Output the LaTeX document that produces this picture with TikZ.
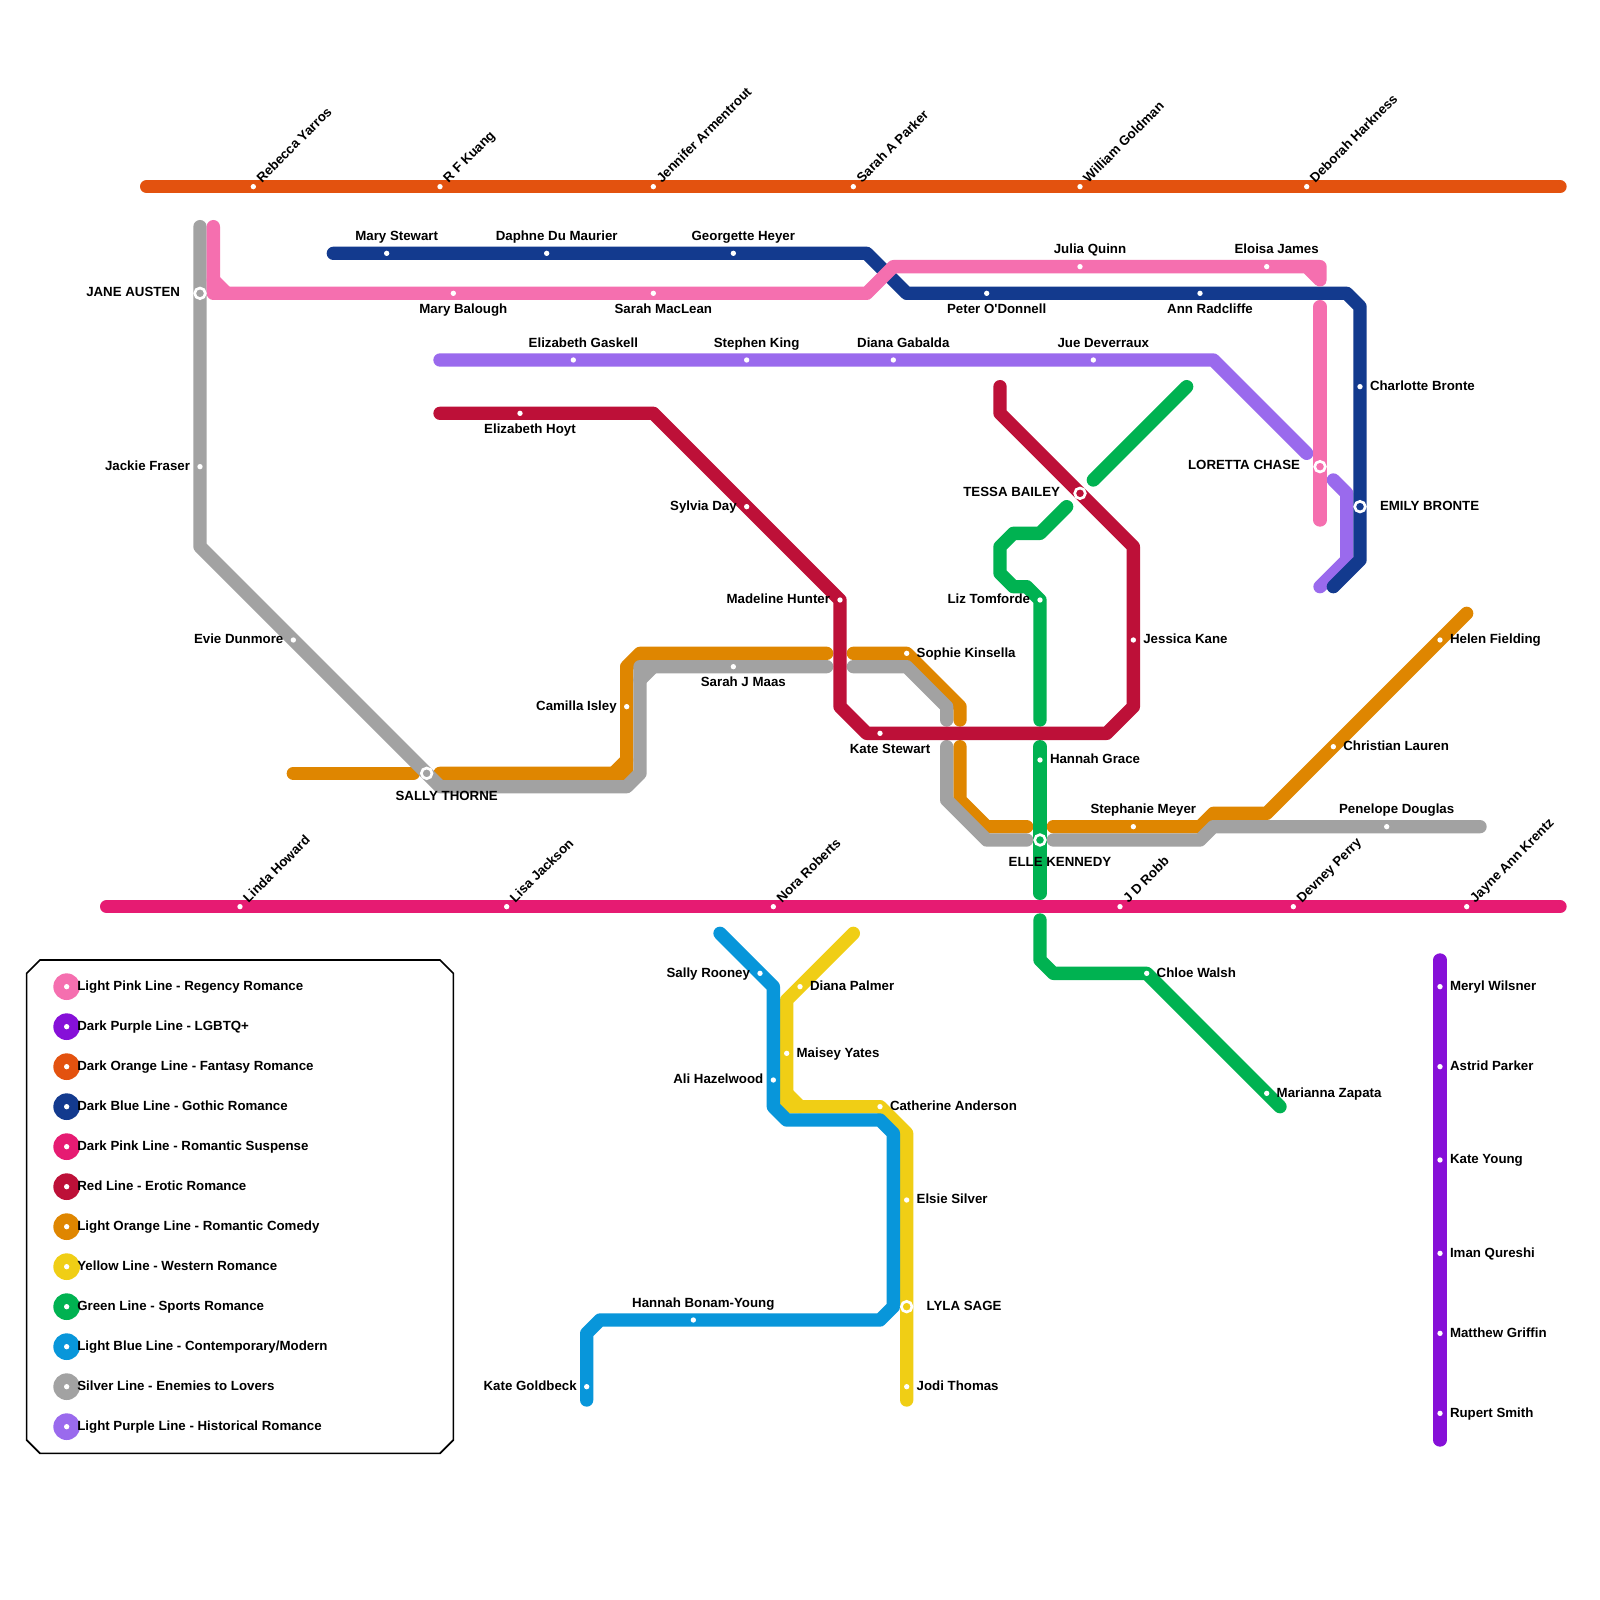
\documentclass[tikz,border=0pt]{standalone}
\usepackage{fontspec}
\setmainfont[Ligatures=TeXOff]{Liberation Sans}
\definecolor{lpink}{HTML}{F56FAF}
\definecolor{dpurple}{HTML}{8610D8}
\definecolor{dorange}{HTML}{E3520F}
\definecolor{dblue}{HTML}{133A8E}
\definecolor{dpink}{HTML}{E61B72}
\definecolor{redl}{HTML}{BD1038}
\definecolor{lorange}{HTML}{DF8600}
\definecolor{yellowl}{HTML}{F0CE15}
\definecolor{greenl}{HTML}{00B251}
\definecolor{lblue}{HTML}{0896DA}
\definecolor{silver}{HTML}{A2A2A2}
\definecolor{lpurple}{HTML}{9A6AED}
\tikzset{
  metro/.style={line width=0.2cm,line cap=round,line join=round},
  lab/.style={inner sep=0pt,outer sep=0pt,font=\bfseries\fontsize{5.67}{7}\selectfont,text=black},
  stationdot/.style={circle,fill=white,draw=none,minimum size=0.08cm,inner sep=0pt},
  hub/.style={circle,draw=white,line width=0.04cm,minimum size=0.16cm,inner sep=0pt},
  keydisc/.style={circle,minimum size=0.4cm,inner sep=0pt,draw=none},
}
\newcommand{\stdot}[3]{\node[stationdot] (#1) at (#2,#3) {};}
\newcommand{\LA}[4]{\stdot{#1}{#2}{#3}\node[lab,anchor=base] (#1-t) at ([xshift=0.15cm,yshift=0.193cm]#1) {#4};}
\newcommand{\LB}[4]{\stdot{#1}{#2}{#3}\node[lab,anchor=base] (#1-t) at ([xshift=0.15cm,yshift=-0.3cm]#1) {#4};}
\newcommand{\LR}[4]{\stdot{#1}{#2}{#3}\node[lab,anchor=base west] (#1-t) at ([xshift=0.15cm,yshift=-0.057cm]#1) {#4};}
\newcommand{\LL}[4]{\stdot{#1}{#2}{#3}\node[lab,anchor=base east] (#1-t) at ([xshift=-0.15cm,yshift=-0.057cm]#1) {#4};}
\newcommand{\LD}[4]{\stdot{#1}{#2}{#3}\node[lab,anchor=base west,rotate=45] (#1-t) at ([xshift=0.13cm,yshift=0.05cm]#1) {#4};}
\newcommand{\HUB}[4]{\node[hub,fill=#4] (#1) at (#2,#3) {};}
\newcommand{\KEY}[4]{\node[keydisc,fill=#3] (#1) at (5,#2) {};\node[stationdot] at (#1) {};\node[lab,anchor=base west] (#1-t) at (5.8,#2+0.25) {#4};}
\begin{document}
\begin{tikzpicture}[x=0.2cm,y=-0.2cm]
\useasboundingbox (0,0) rectangle (120,120);
\fill[white] (0,0) rectangle (120,120);
% legend frame
\draw[line width=0.7pt,black] (3,72)--(33,72)--(34,73)--(34,108)--(33,109)--(3,109)--(2,108)--(2,73)--cycle;
% light orange
\draw[metro,lorange] (22,58)--(31,58);
\draw[metro,lorange] (33,58)--(47,58)--(47,50)--(48,49)--(62,49);
\draw[metro,lorange] (46,58)--(47,57);
\draw[metro,lorange] (64,49)--(68,49)--(72,53)--(72,54);
\draw[metro,lorange] (72,56)--(72,60)--(74,62)--(77,62);
\draw[metro,lorange] (79,62)--(90,62)--(91,61)--(95,61)--(110,46);
% silver
\draw[metro,silver] (15,17)--(15,41)--(33,59)--(47,59)--(48,58)--(48,50)--(62,50);
\draw[metro,silver] (48,51)--(49,50);
\draw[metro,silver] (64,50)--(68,50)--(71,53)--(71,54);
\draw[metro,silver] (71,56)--(71,60)--(74,63)--(77,63);
\draw[metro,silver] (79,63)--(90,63)--(91,62)--(111,62);
% green
\draw[metro,greenl] (80,38)--(78,40)--(76,40)--(75,41)--(75,43)--(76,44)--(77,44)--(78,45)--(78,54);
\draw[metro,greenl] (82,36)--(89,29);
\draw[metro,greenl] (78,56)--(78,67);
\draw[metro,greenl] (78,69)--(78,72)--(79,73)--(86,73)--(96,83);
% red
\draw[metro,redl] (33,31)--(49,31)--(63,45)--(63,53)--(65,55)--(83,55)--(85,53)--(85,41)--(75,31)--(75,29);
% dark orange, dark pink
\draw[metro,dorange] (11,14)--(117,14);
\draw[metro,dpink] (8,68)--(117,68);
% light purple
\draw[metro,lpurple] (33,27)--(91,27)--(98,34);
\draw[metro,lpurple] (100,36)--(101,37)--(101,42)--(99,44);
% dark blue
\draw[metro,dblue] (25,19)--(65,19)--(68,22)--(101,22)--(102,23)--(102,42)--(100,44);
% light pink
\draw[metro,lpink] (16,17)--(16,22)--(65,22)--(67,20)--(99,20)--(99,21)--(98,20);
\draw[metro,lpink] (16,21)--(17,22);
\draw[metro,lpink] (99,23)--(99,39);
% yellow
\draw[metro,yellowl] (64,70)--(59,75)--(59,83)--(66,83)--(68,85)--(68,105);
\draw[metro,yellowl] (59,82)--(60,83);
% light blue
\draw[metro,lblue] (54,70)--(58,74)--(58,83)--(59,84)--(66,84)--(67,85)--(67,98)--(66,99)--(45,99)--(44,100)--(44,105);
% dark purple
\draw[metro,dpurple] (108,72)--(108,108);
% interchanges
\HUB{jane}{15}{22}{silver}
\node[lab,anchor=base east] (jane-t) at (13.5,22.25) {JANE AUSTEN};
\HUB{sally}{32}{58}{silver}
\node[lab,anchor=base] (sally-t) at (33.5,60) {SALLY THORNE};
\HUB{tessa}{81}{37}{redl}
\node[lab,anchor=base east] (tessa-t) at (79.5,37.25) {TESSA BAILEY};
\HUB{loretta}{99}{35}{lpink}
\node[lab,anchor=base east] (loretta-t) at (97.5,35.25) {LORETTA CHASE};
\HUB{emily}{102}{38}{dblue}
\node[lab,anchor=base west] (emily-t) at (103.5,38.25) {EMILY BRONTE};
\HUB{elle}{78}{63}{greenl}
\node[lab,anchor=base] (elle-t) at (79.5,65) {ELLE KENNEDY};
\HUB{lyla}{68}{98}{yellowl}
\node[lab,anchor=base west] (lyla-t) at (69.5,98.25) {LYLA SAGE};
% dark orange stations
\LD{a1}{19}{14}{Rebecca Yarros}
\LD{a2}{33}{14}{R F Kuang}
\LD{a3}{49}{14}{Jennifer Armentrout}
\LD{a4}{64}{14}{Sarah A Parker}
\LD{a5}{81}{14}{William Goldman}
\LD{a6}{98}{14}{Deborah Harkness}
% dark pink stations
\LD{b1}{18}{68}{Linda Howard}
\LD{b2}{38}{68}{Lisa Jackson}
\LD{b3}{58}{68}{Nora Roberts}
\LD{b4}{84}{68}{J D Robb}
\LD{b5}{97}{68}{Devney Perry}
\LD{b6}{110}{68}{Jayne Ann Krentz}
% dark blue stations
\LA{c1}{29}{19}{Mary Stewart}
\LA{c2}{41}{19}{Daphne Du Maurier}
\LA{c3}{55}{19}{Georgette Heyer}
\LB{c4}{74}{22}{Peter O'Donnell}
\LB{c5}{90}{22}{Ann Radcliffe}
\LR{c6}{102}{29}{Charlotte Bronte}
% light pink stations
\LB{d1}{34}{22}{Mary Balough}
\LB{d2}{49}{22}{Sarah MacLean}
\LA{d3}{81}{20}{Julia Quinn}
\LA{d4}{95}{20}{Eloisa James}
% light purple stations
\LA{e1}{43}{27}{Elizabeth Gaskell}
\LA{e2}{56}{27}{Stephen King}
\LA{e3}{67}{27}{Diana Gabalda}
\LA{e4}{82}{27}{Jue Deverraux}
% red stations
\LB{f1}{39}{31}{Elizabeth Hoyt}
\LL{f2}{56}{38}{Sylvia Day}
\LL{f3}{63}{45}{Madeline Hunter}
\LB{f4}{66}{55}{Kate Stewart}
\LR{f5}{85}{48}{Jessica Kane}
% silver stations
\LL{g1}{15}{35}{Jackie Fraser}
\LL{g2}{22}{48}{Evie Dunmore}
\LB{g3}{55}{50}{Sarah J Maas}
\LA{g4}{104}{62}{Penelope Douglas}
% light orange stations
\LL{h1}{47}{53}{Camilla Isley}
\LR{h2}{68}{49}{Sophie Kinsella}
\LA{h3}{85}{62}{Stephanie Meyer}
\LR{h4}{100}{56}{Christian Lauren}
\LR{h5}{108}{48}{Helen Fielding}
% green stations
\LL{i1}{78}{45}{Liz Tomforde}
\LR{i2}{78}{57}{Hannah Grace}
\LR{i3}{86}{73}{Chloe Walsh}
\LR{i4}{95}{82}{Marianna Zapata}
% light blue stations
\LL{j1}{57}{73}{Sally Rooney}
\LL{j2}{58}{81}{Ali Hazelwood}
\LA{j3}{52}{99}{Hannah Bonam-Young}
\LL{j4}{44}{104}{Kate Goldbeck}
% yellow stations
\LR{k1}{60}{74}{Diana Palmer}
\LR{k2}{59}{79}{Maisey Yates}
\LR{k3}{66}{83}{Catherine Anderson}
\LR{k4}{68}{90}{Elsie Silver}
\LR{k5}{68}{104}{Jodi Thomas}
% dark purple stations
\LR{m1}{108}{74}{Meryl Wilsner}
\LR{m2}{108}{80}{Astrid Parker}
\LR{m3}{108}{87}{Kate Young}
\LR{m4}{108}{94}{Iman Qureshi}
\LR{m5}{108}{100}{Matthew Griffin}
\LR{m6}{108}{106}{Rupert Smith}
% legend
\KEY{k01}{74}{lpink}{Light Pink Line - Regency Romance}
\KEY{k02}{77}{dpurple}{Dark Purple Line - LGBTQ+}
\KEY{k03}{80}{dorange}{Dark Orange Line - Fantasy Romance}
\KEY{k04}{83}{dblue}{Dark Blue Line - Gothic Romance}
\KEY{k05}{86}{dpink}{Dark Pink Line - Romantic Suspense}
\KEY{k06}{89}{redl}{Red Line - Erotic Romance}
\KEY{k07}{92}{lorange}{Light Orange Line - Romantic Comedy}
\KEY{k08}{95}{yellowl}{Yellow Line - Western Romance}
\KEY{k09}{98}{greenl}{Green Line - Sports Romance}
\KEY{k10}{101}{lblue}{Light Blue Line - Contemporary/Modern}
\KEY{k11}{104}{silver}{Silver Line - Enemies to Lovers}
\KEY{k12}{107}{lpurple}{Light Purple Line - Historical Romance}
\end{tikzpicture}
\end{document}
